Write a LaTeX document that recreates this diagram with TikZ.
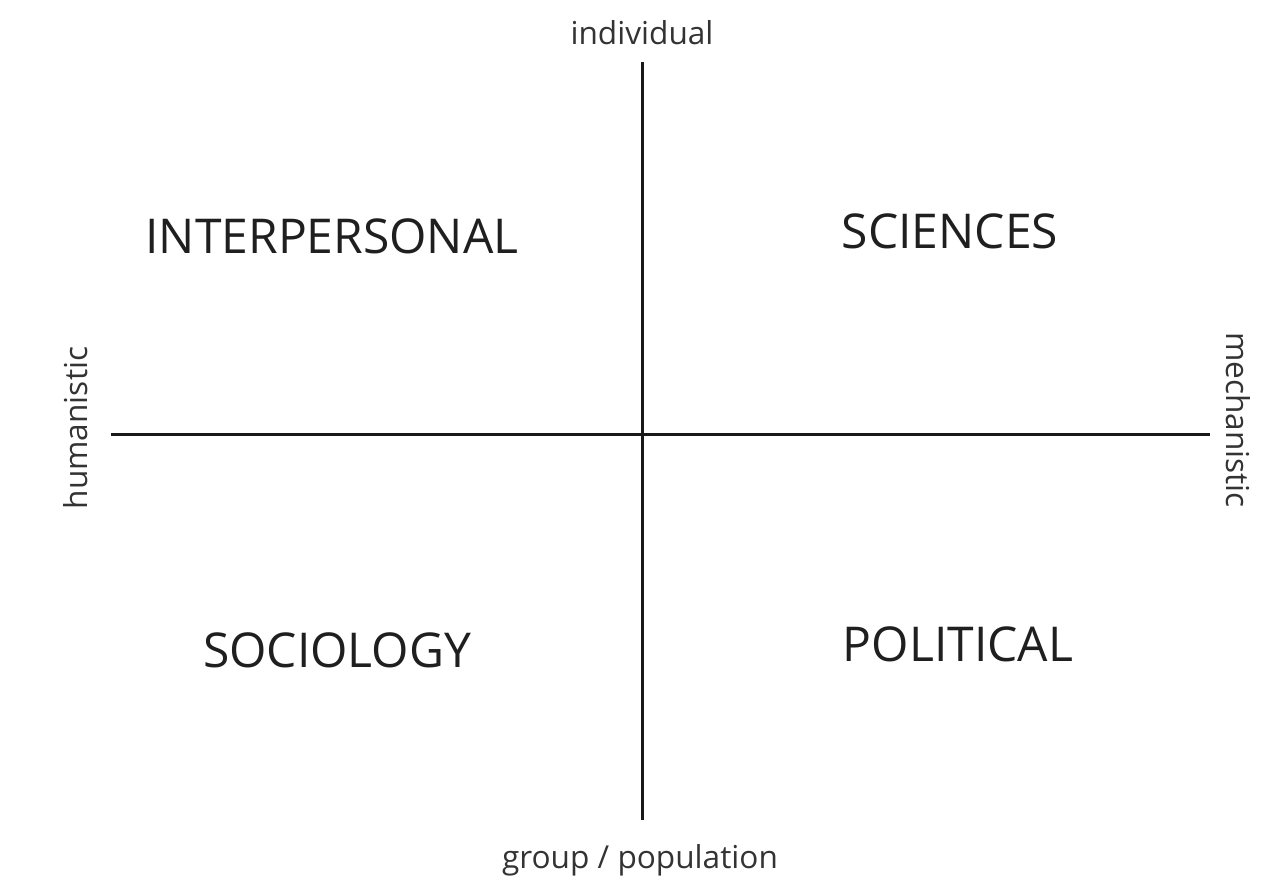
\documentclass[tikz,border=0pt]{standalone}
\usepackage{fontspec}
\setmainfont{Open Sans}
\begin{document}
\begin{tikzpicture}[x=0.5pt,y=-0.5pt,
  axis/.style={line width=1.5pt,draw=black!90},
  quad/.style={font=\fontsize{24}{28}\selectfont,text=black!88,inner sep=0pt},
  pole/.style={font=\fontsize{15.8}{18}\selectfont,text=black!80,inner sep=0pt}]
\useasboundingbox (0,0) rectangle (1264,878);
\coordinate (top) at (642,62);
\coordinate (bot) at (642,820);
\coordinate (left) at (111,434);
\coordinate (right) at (1210,434);
\draw[axis] (top) -- (bot);
\draw[axis] (left) -- (right);
\node[quad] (ip) at (332,236) {INTERPERSONAL};
\node[quad] (sc) at (950,231) {SCIENCES};
\node[quad] (so) at (337,650) {SOCIOLOGY};
\node[quad] (po) at (958,644) {POLITICAL};
\node[pole] (ind) at (642,33) {individual};
\node[pole] (grp) at (640,860) {group / population};
\node[pole,rotate=90] (hum) at (76,428) {humanistic};
\node[pole,rotate=-90] (mec) at (1238,420) {mechanistic};
\end{tikzpicture}
\end{document}
